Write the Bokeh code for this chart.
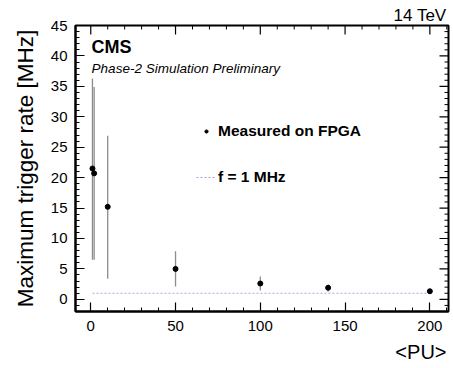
import math
from bokeh.plotting import figure
from bokeh.models import (ColumnDataSource, SingleIntervalTicker, Range1d,
                          Label, Legend, LegendItem, Title)
from bokeh.embed import file_html
from bokeh.resources import INLINE

# Data
pu = [1, 2, 10, 50, 100, 140, 200]
rate = [21.5, 20.7, 15.2, 5.0, 2.6, 1.9, 1.33]
rate_hi = [36.3, 34.9, 26.9, 7.9, 3.75, 2.45, 1.45]
rate_lo = [6.5, 6.5, 3.4, 2.1, 1.45, 1.3, 1.2]
limit_x = [1, 200]
limit_y = [1, 1]

# axis ranges and tick values
x_start, x_end = -9, 211
y_start, y_end = -2, 45
x_major = [0, 50, 100, 150, 200]
x_minor = [v for v in range(0, 211, 10) if v not in x_major]
y_major = [0, 5, 10, 15, 20, 25, 30, 35, 40, 45]
y_minor = [v for v in range(-1, 45) if v not in y_major]

FONT = "Liberation Sans"

src = ColumnDataSource(dict(x=pu, y=rate, hi=rate_hi, lo=rate_lo))

p = figure(width=453, height=368, output_backend="svg", toolbar_location=None,
           x_range=Range1d(x_start, x_end), y_range=Range1d(y_start, y_end),
           min_border_left=75, min_border_right=5, min_border_top=25, min_border_bottom=57)
p.xgrid.visible = False
p.ygrid.visible = False
p.outline_line_color = "black"
p.outline_line_width = 2
p.background_fill_color = "white"
p.border_fill_color = "white"

p.xaxis.ticker = SingleIntervalTicker(interval=50, num_minor_ticks=5)
p.yaxis.ticker = SingleIntervalTicker(interval=5, num_minor_ticks=5)
for ax in (p.xaxis[0], p.yaxis[0]):
    ax.axis_line_color = "black"
    ax.axis_line_width = 2
    ax.major_tick_in = 9
    ax.major_tick_out = 0
    ax.minor_tick_in = 4
    ax.minor_tick_out = 0
    ax.major_tick_line_color = "black"
    ax.minor_tick_line_color = "black"
    ax.major_tick_line_width = 1.2
    ax.minor_tick_line_width = 1
    ax.major_label_text_font = FONT
    ax.major_label_text_font_size = "15px"
    ax.major_label_text_color = "black"
p.xaxis.major_label_standoff = 9
p.yaxis.major_label_standoff = 8
p.yaxis.axis_label = "Maximum trigger rate [MHz]"
p.yaxis.axis_label_text_font = FONT
p.yaxis.axis_label_text_font_size = "22.5px"
p.yaxis.axis_label_text_font_style = "normal"
p.yaxis.axis_label_text_color = "black"
p.yaxis.axis_label_standoff = 10

# mirrored inward ticks on the top and right edges (half of each dash is clipped by the frame)
p.scatter(x_major, [y_end] * len(x_major), marker="dash", size=18, angle=math.pi / 2,
          line_color="black", line_width=1.2)
p.scatter(x_minor, [y_end] * len(x_minor), marker="dash", size=8, angle=math.pi / 2,
          line_color="black", line_width=1)
p.scatter([x_end] * len(y_major), y_major, marker="dash", size=18,
          line_color="black", line_width=1.2)
p.scatter([x_end] * len(y_minor), y_minor, marker="dash", size=8,
          line_color="black", line_width=1)

# f = 1 MHz line
lr = p.line(limit_x, limit_y, line_color="#a9a6e0", line_width=1.2, line_dash="2 2")
# error bars
p.segment(x0="x", y0="lo", x1="x", y1="hi", source=src, line_color="#8c8c8c", line_width=1.3)
# points
sr = p.scatter("x", "y", source=src, size=5, color="black")

legend = Legend(items=[LegendItem(label="Measured on FPGA", renderers=[sr]),
                       LegendItem(label="f = 1 MHz", renderers=[lr])],
                location=(121, 124), spacing=26, glyph_width=20, glyph_height=8,
                label_height=20, label_standoff=2, padding=0, margin=0,
                background_fill_alpha=0, border_line_alpha=0,
                label_text_font=FONT, label_text_font_size="15.5px",
                label_text_font_style="bold", label_text_color="black")
p.add_layout(legend)

p.add_layout(Label(x=0.5, y=41.5, text="CMS", text_font=FONT, text_font_size="18px",
                   text_font_style="bold", text_baseline="middle", text_color="black"))
p.add_layout(Label(x=0.5, y=37.9, text="Phase-2 Simulation Preliminary", text_font=FONT,
                   text_font_size="13.5px", text_font_style="italic", text_baseline="middle",
                   text_color="black"))

p.add_layout(Title(text="14 TeV", align="right", text_font=FONT, text_font_size="17px",
                   text_font_style="normal", text_color="black", standoff=2, offset=2), "above")
p.add_layout(Title(text="<PU>", align="right", text_font=FONT, text_font_size="20px",
                   text_font_style="normal", text_color="black", standoff=10, offset=2), "below")

open("out.html", "w").write(file_html(p, INLINE))
